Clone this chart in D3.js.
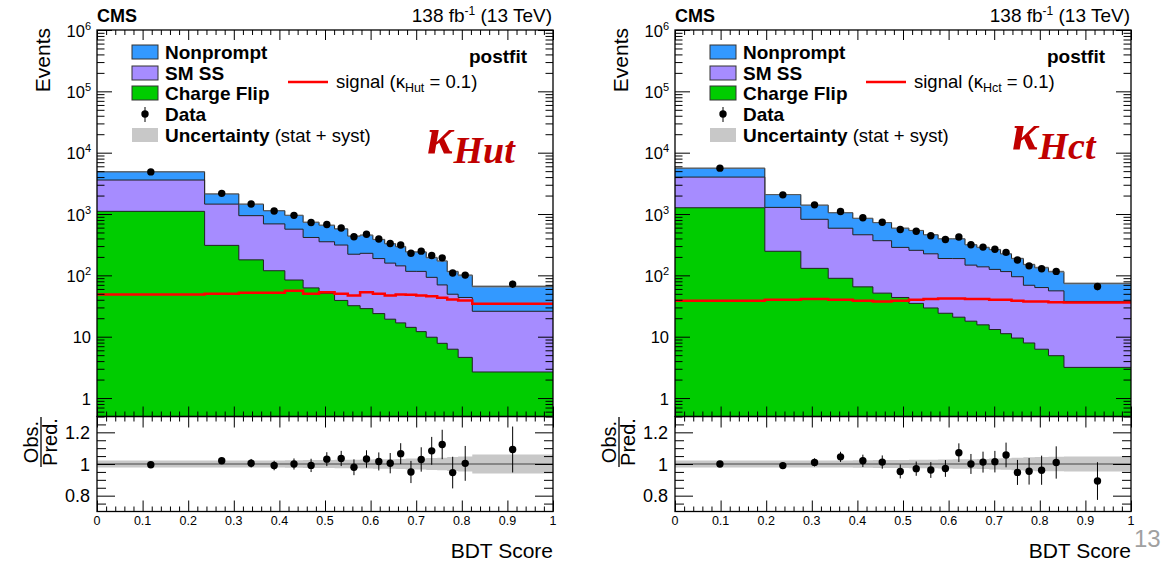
<!DOCTYPE html>
<html>
<head>
<meta charset="utf-8">
<script src="https://cdn.jsdelivr.net/npm/d3@7"></script>
<style>
  body { margin: 0; background: #fff; }
  svg { display: block; }
  text { font-family: "Liberation Sans", Arial, Helvetica, sans-serif; fill: #000; }
</style>
</head>
<body>
<svg id="chart" width="1165" height="562"></svg>
<script>
// ---- data ----

// kappa_Hut region
const hutEdges = [0, 0.236, 0.311, 0.365, 0.412, 0.452, 0.487, 0.521, 0.550, 0.577, 0.605,
                  0.631, 0.655, 0.677, 0.700, 0.722, 0.746, 0.768, 0.792, 0.823, 1];
const hutChargeFlip = [1105, 308, 179, 119, 84, 62.5, 51, 39, 32, 28.7, 23.8, 19.3, 16.8, 14.2, 12.1, 9.8, 7.8, 6.25, 4.6, 2.66];
const hutSMSS = [2475, 1142, 761, 571, 482, 352, 302, 273, 189, 200, 164, 139, 126, 102, 104, 83, 62, 43, 39, 23.3];
const hutNonprompt = [1300, 678, 509, 442, 386, 319, 303, 261, 215, 224, 197, 170, 151, 125, 125, 102, 102, 66, 57, 40];
const hutSignal = [48.8, 50, 51.9, 51.9, 55.9, 50, 53.2, 50, 47, 53.2, 50, 47, 48.8, 48.2, 47, 45.8, 43, 40.5, 39, 34.5];
const hutData = [4856, 2171, 1456, 1121, 952, 727, 676, 593, 427, 467, 391, 330, 313, 229, 248, 211, 193, 109, 101, 72];
const hutDataErr = [0.01, 0.018, 0.027, 0.03, 0.035, 0.042, 0.044, 0.048, 0.05, 0.055, 0.057, 0.064, 0.066, 0.07, 0.077, 0.088, 0.093, 0.1, 0.11, 0.145];
const hutUnc = [0.022, 0.022, 0.022, 0.022, 0.024, 0.025, 0.026, 0.027, 0.027, 0.028, 0.03, 0.03, 0.032, 0.034, 0.035, 0.038, 0.04, 0.044, 0.048, 0.06];

// kappa_Hct region
const hctEdges = [0, 0.197, 0.276, 0.336, 0.390, 0.434, 0.475, 0.513, 0.545, 0.577, 0.609,
                  0.636, 0.662, 0.689, 0.714, 0.738, 0.764, 0.789, 0.819, 0.853, 1];
const hctChargeFlip = [1265, 247, 130, 89.5, 64.9, 51.3, 43.6, 34.9, 29.4, 24.1, 20.8, 17.9, 15.6, 13.1, 11.2, 9.5, 7.9, 6.25, 4.9, 3.16];
const hctSMSS = [2735, 1035, 690, 497, 394, 316, 242, 221, 195, 164, 167, 129, 122, 112, 104, 85.5, 61, 57, 51, 34.4];
const hctNonprompt = [1590, 793, 576, 464, 392, 358, 301, 283, 235, 207, 207, 169, 148, 138, 109, 93, 81, 70, 59, 36.4];
const hctSignal = [38.5, 40, 41, 40, 38.5, 37.6, 38.5, 40, 41, 42, 42, 41, 41, 40, 40, 38.5, 37.6, 37.6, 36.3, 36];
const hctData = [5590, 2054, 1410, 1098, 868, 734, 559, 523, 442, 384, 423, 316, 289, 267, 237, 178, 143, 128, 116, 66];
const hctDataErr = [0.01, 0.018, 0.026, 0.032, 0.039, 0.042, 0.044, 0.045, 0.05, 0.053, 0.059, 0.063, 0.066, 0.068, 0.078, 0.079, 0.084, 0.092, 0.102, 0.119];
const hctUnc = [0.022, 0.022, 0.022, 0.022, 0.024, 0.025, 0.026, 0.027, 0.027, 0.028, 0.03, 0.03, 0.032, 0.034, 0.036, 0.04, 0.042, 0.045, 0.046, 0.048];

// axis labels
const xTickLabels = ['0', '0.1', '0.2', '0.3', '0.4', '0.5', '0.6', '0.7', '0.8', '0.9', '1'];
const yDecades = [1, 10, 100, 1e3, 1e4, 1e5, 1e6];
const ratioTicks = [0.8, 1, 1.2];

const colNonprompt = '#3399ff';
const colSMSS = '#a68cff';
const colChargeFlip = '#00cc00';
const colUnc = '#c8c8c8';

const svg = d3.select('#chart');

const mainTop = 30, mainBottom = 416.5, ratioBottom = 511.5;

const panels = [
    {x0: 97, x1: 553, edges: hutEdges, cf: hutChargeFlip, ss: hutSMSS, np: hutNonprompt,
     sig: hutSignal, data: hutData, err: hutDataErr, unc: hutUnc, sub: 'Hut', kx: 330, ky: 153},
    {x0: 675, x1: 1131, edges: hctEdges, cf: hctChargeFlip, ss: hctSMSS, np: hctNonprompt,
     sig: hctSignal, data: hctData, err: hctDataErr, unc: hctUnc, sub: 'Hct', kx: 337, ky: 149}
];

function addTicks(g, axis, transform) {
    g.append('g')
        .attr('transform', transform)
        .attr('color', '#000')
        .call(axis)
        .call(s => s.select('.domain').remove())
        .call(s => s.selectAll('text').remove());
}

function drawPanel(p) {
    const g = svg.append('g');
    const x = d3.scaleLinear().domain([0, 1]).range([p.x0, p.x1]);
    const y = d3.scaleLog().domain([0.5, 1e6]).range([mainBottom, mainTop]);
    const yr = d3.scaleLinear().domain([0.7, 1.3]).range([ratioBottom, mainBottom]);
    const nb = p.cf.length;

    // cumulative stack
    const upToSS = p.cf.map((v, i) => v + p.ss[i]);
    const total = upToSS.map((v, i) => v + p.np[i]);
    const centers = d3.range(nb).map(i => (p.edges[i] + p.edges[i + 1]) / 2);

    const steps = vals => p.edges.map((e, i) => ({x: e, v: vals[Math.min(i, nb - 1)]}));
    const area = d3.area().curve(d3.curveStepAfter)
        .x(d => x(d.x)).y0(y(0.5)).y1(d => y(d.v));
    const line = d3.line().curve(d3.curveStepAfter)
        .x(d => x(d.x)).y(d => y(d.v));

    [[total, colNonprompt], [upToSS, colSMSS], [p.cf, colChargeFlip]].forEach(([vals, col]) => {
        g.append('path').datum(steps(vals)).attr('d', area).attr('fill', col);
        g.append('path').datum(steps(vals)).attr('d', line)
            .attr('fill', 'none').attr('stroke', '#222').attr('stroke-width', 1);
    });

    // uncertainty band on the total
    const bandPts = p.edges.map((e, i) => {
        const k = Math.min(i, nb - 1);
        return {x: e, lo: total[k] * (1 - p.unc[k]), hi: total[k] * (1 + p.unc[k])};
    });
    g.append('path').datum(bandPts)
        .attr('d', d3.area().curve(d3.curveStepAfter).x(d => x(d.x)).y0(d => y(d.lo)).y1(d => y(d.hi)))
        .attr('fill', '#888').attr('opacity', 0.5);

    // signal
    g.append('path').datum(steps(p.sig)).attr('d', line)
        .attr('fill', 'none').attr('stroke', '#ff0000').attr('stroke-width', 2.5);

    // data
    centers.forEach((c, i) => {
        const e = p.err[i] * total[i];
        g.append('line').attr('x1', x(c)).attr('x2', x(c))
            .attr('y1', y(p.data[i] - e)).attr('y2', y(p.data[i] + e))
            .attr('stroke', '#000').attr('stroke-width', 1);
        g.append('circle').attr('cx', x(c)).attr('cy', y(p.data[i])).attr('r', 3.7).attr('fill', '#000');
    });

    // ratio panel
    const rb = p.edges.map((e, i) => ({x: e, u: p.unc[Math.min(i, nb - 1)]}));
    g.append('path').datum(rb)
        .attr('d', d3.area().curve(d3.curveStepAfter).x(d => x(d.x)).y0(d => yr(1 - d.u)).y1(d => yr(1 + d.u)))
        .attr('fill', colUnc);
    g.append('line').attr('x1', p.x0).attr('x2', p.x1).attr('y1', yr(1)).attr('y2', yr(1))
        .attr('stroke', '#444').attr('stroke-width', 1.2);
    centers.forEach((c, i) => {
        const r = p.data[i] / total[i];
        g.append('line').attr('x1', x(c)).attr('x2', x(c))
            .attr('y1', yr(r - p.err[i])).attr('y2', yr(r + p.err[i]))
            .attr('stroke', '#000').attr('stroke-width', 1);
        g.append('circle').attr('cx', x(c)).attr('cy', yr(r)).attr('r', 3.7).attr('fill', '#000');
    });

    // frames
    g.append('rect').attr('x', p.x0).attr('y', mainTop).attr('width', p.x1 - p.x0).attr('height', mainBottom - mainTop)
        .attr('fill', 'none').attr('stroke', '#000').attr('stroke-width', 1.3);
    g.append('rect').attr('x', p.x0).attr('y', mainBottom).attr('width', p.x1 - p.x0).attr('height', ratioBottom - mainBottom)
        .attr('fill', 'none').attr('stroke', '#000').attr('stroke-width', 1.3);

    // ticks
    const xMajor = d3.range(0, 11).map(i => i / 10);
    const xMinor = d3.range(0, 51).map(i => i / 50).filter((v, i) => i % 5 !== 0);
    [[mainTop, 'top', 10, 5], [mainBottom, 'bottom', 10, 5], [mainBottom, 'top', 11, 5], [ratioBottom, 'bottom', 11, 5]]
        .forEach(([yy, side, maj, min]) => {
            const mk = side === 'top' ? d3.axisTop : d3.axisBottom;
            addTicks(g, mk(x).tickValues(xMajor).tickSize(-maj), `translate(0,${yy})`);
            addTicks(g, mk(x).tickValues(xMinor).tickSize(-min), `translate(0,${yy})`);
        });

    const yMinor = [];
    [0.1, 1, 10, 100, 1e3, 1e4, 1e5].forEach(d => d3.range(2, 10).forEach(k => {
        const v = d * k;
        if (v >= 0.5 && v < 1e6) yMinor.push(v);
    }));
    addTicks(g, d3.axisLeft(y).tickValues(yDecades).tickSize(-15), `translate(${p.x0},0)`);
    addTicks(g, d3.axisLeft(y).tickValues(yMinor).tickSize(-7.5), `translate(${p.x0},0)`);
    addTicks(g, d3.axisRight(y).tickValues(yDecades).tickSize(-15), `translate(${p.x1},0)`);
    addTicks(g, d3.axisRight(y).tickValues(yMinor).tickSize(-7.5), `translate(${p.x1},0)`);

    const rMinor = d3.range(0.75, 1.3, 0.05).filter(v => !ratioTicks.some(t => Math.abs(t - v) < 1e-6));
    addTicks(g, d3.axisLeft(yr).tickValues(ratioTicks).tickSize(-18), `translate(${p.x0},0)`);
    addTicks(g, d3.axisLeft(yr).tickValues(rMinor).tickSize(-9), `translate(${p.x0},0)`);
    addTicks(g, d3.axisRight(yr).tickValues(ratioTicks).tickSize(-18), `translate(${p.x1},0)`);
    addTicks(g, d3.axisRight(yr).tickValues(rMinor).tickSize(-9), `translate(${p.x1},0)`);

    // tick labels
    yDecades.forEach(v => {
        const t = g.append('text').attr('x', p.x0 - 6).attr('y', y(v) + 6.5)
            .attr('text-anchor', 'end').attr('font-size', 16.5);
        if (v < 100) {
            t.text(String(v));
        } else {
            t.append('tspan').text('10');
            t.append('tspan').attr('dy', -7).attr('font-size', 11).text(Math.round(Math.log10(v)));
        }
    });
    ratioTicks.forEach(v => {
        g.append('text').attr('x', p.x0 - 7).attr('y', yr(v) + 6.5)
            .attr('text-anchor', 'end').attr('font-size', 18).text(v === 1 ? '1' : String(v));
    });
    xTickLabels.forEach((lab, i) => {
        g.append('text').attr('x', x(i / 10)).attr('y', 525)
            .attr('text-anchor', 'middle').attr('font-size', 12.5).text(lab);
    });

    // axis titles
    g.append('text').attr('transform', `translate(${p.x0 - 47},28) rotate(-90)`)
        .attr('text-anchor', 'end').attr('font-size', 21).text('Events');
    g.append('text').attr('x', p.x1).attr('y', 558)
        .attr('text-anchor', 'end').attr('font-size', 21).text('BDT Score');
    const fr = g.append('g').attr('transform', `translate(${p.x0 - 56},442) rotate(-90)`);
    fr.append('text').attr('y', -3).attr('text-anchor', 'middle').attr('font-size', 20).text('Obs.');
    fr.append('text').attr('y', 16).attr('text-anchor', 'middle').attr('font-size', 20).text('Pred.');
    fr.append('line').attr('x1', -25).attr('x2', 25).attr('y1', 0).attr('y2', 0)
        .attr('stroke', '#000').attr('stroke-width', 1.3);

    // header
    g.append('text').attr('x', p.x0).attr('y', 22).attr('font-size', 18).attr('font-weight', 'bold').text('CMS');
    const lumi = g.append('text').attr('x', p.x1 - 1).attr('y', 22).attr('text-anchor', 'end').attr('font-size', 19);
    lumi.append('tspan').text('138 fb');
    lumi.append('tspan').attr('dy', -7).attr('font-size', 12).text('-1');
    lumi.append('tspan').attr('dy', 7).text(' (13 TeV)');

    // legend
    const lx = p.x0 + 35, rows = [52, 73, 93, 114, 135];
    [[colNonprompt, 'Nonprompt'], [colSMSS, 'SM SS'], [colChargeFlip, 'Charge Flip']].forEach(([col, lab], i) => {
        g.append('rect').attr('x', lx).attr('y', rows[i] - 7).attr('width', 26).attr('height', 14)
            .attr('fill', col).attr('stroke', '#333').attr('stroke-width', 1);
        g.append('text').attr('x', lx + 33).attr('y', rows[i] + 6.5)
            .attr('font-size', 19).attr('font-weight', 'bold').text(lab);
    });
    g.append('line').attr('x1', lx + 13).attr('x2', lx + 13).attr('y1', rows[3] - 7).attr('y2', rows[3] + 8)
        .attr('stroke', '#000').attr('stroke-width', 1);
    g.append('circle').attr('cx', lx + 13).attr('cy', rows[3]).attr('r', 3.7).attr('fill', '#000');
    g.append('text').attr('x', lx + 33).attr('y', rows[3] + 6.5)
        .attr('font-size', 19).attr('font-weight', 'bold').text('Data');
    g.append('rect').attr('x', lx).attr('y', rows[4] - 7).attr('width', 26).attr('height', 14).attr('fill', colUnc);
    const ut = g.append('text').attr('x', lx + 33).attr('y', rows[4] + 6.5).attr('font-size', 19);
    ut.append('tspan').attr('font-weight', 'bold').text('Uncertainty');
    ut.append('tspan').attr('font-size', 18.5).text(' (stat + syst)');

    g.append('line').attr('x1', p.x0 + 191).attr('x2', p.x0 + 231).attr('y1', 82).attr('y2', 82)
        .attr('stroke', '#ff0000').attr('stroke-width', 2.5);
    const st = g.append('text').attr('x', p.x0 + 239).attr('y', 88).attr('font-size', 18.5);
    st.append('tspan').text('signal (\u03ba');
    st.append('tspan').attr('dy', 4).attr('font-size', 12.5).text(p.sub);
    st.append('tspan').attr('dy', -4).text(' = 0.1)');

    g.append('text').attr('x', p.x1 - 26).attr('y', 63).attr('text-anchor', 'end')
        .attr('font-size', 19).attr('font-weight', 'bold').text('postfit');

    // big kappa label
    const kt = g.append('text').attr('x', p.x0 + p.kx).attr('y', p.ky)
        .style('font-family', '"Liberation Serif", "DejaVu Serif", serif')
        .attr('font-weight', 'bold').attr('font-style', 'italic')
        .style('fill', '#c00000').attr('font-size', 50);
    kt.append('tspan').text('\u03ba');
    kt.append('tspan').attr('dy', 10).attr('font-size', 38).text(p.sub);
}

panels.forEach(drawPanel);

// slide page number
svg.append('text').attr('x', 1134).attr('y', 547).attr('font-size', 24)
    .style('fill', '#a0a0a0').text('13');
</script>
</body>
</html>
